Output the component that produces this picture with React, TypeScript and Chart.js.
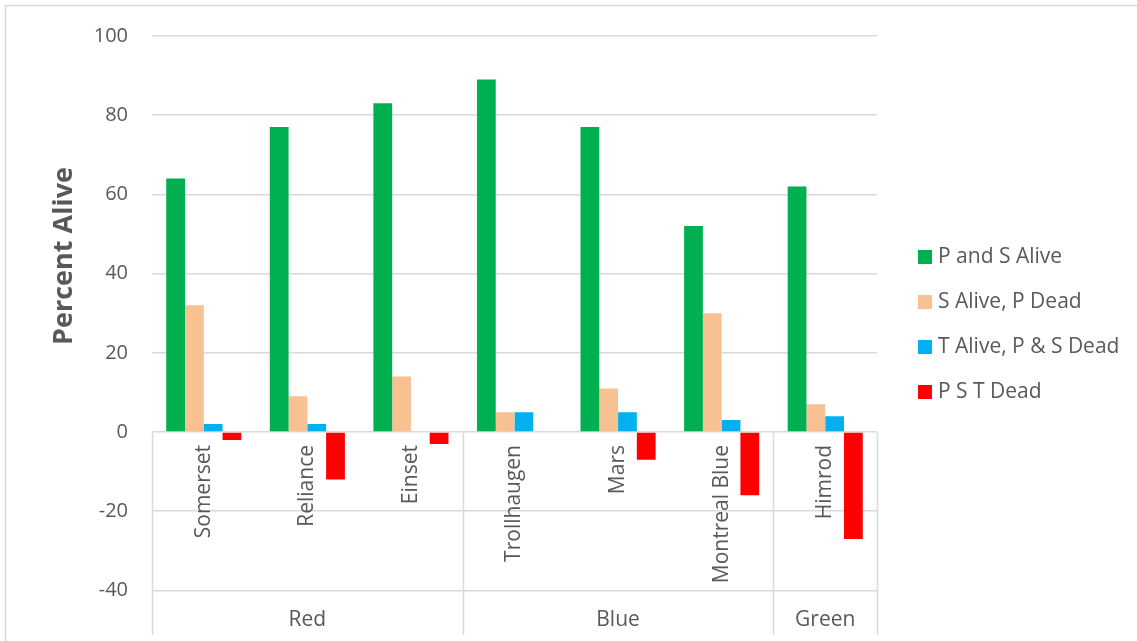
import React, { useEffect, useRef } from "react";
import { Chart, registerables } from "chart.js";

Chart.register(...registerables);

const categories = ["Somerset", "Reliance", "Einset", "Trollhaugen", "Mars", "Montreal Blue", "Himrod"];
const groupNames = ["Red", "Blue", "Green"];
const groupSizes = [3, 3, 1];

const seriesNames = ["P and S Alive", "S Alive, P Dead", "T Alive, P & S Dead", "P S T Dead"];
const pAndSAlive = [64, 77, 83, 89, 77, 52, 62];
const sAlivePDead = [32, 9, 14, 5, 11, 30, 7];
const tAlivePSDead = [2, 2, 0, 5, 5, 3, 4];
const pstDead = [-2, -12, -3, 0, -7, -16, -27];
const seriesColors = ["#00B050", "#F8C192", "#00B0F0", "#FF0000"];

const yTicksMin = -40;
const yTicksMax = 100;
const yTickStep = 20;

const FONT = "'Open Sans', 'DejaVu Sans', sans-serif";
const TEXT = "#595959";
const GRID = "#d9d9d9";

const decorPlugin = {
  id: "decor",
  afterDraw(chart: any) {
    const ctx = chart.ctx;
    const xs = chart.scales.x;
    const ys = chart.scales.y;
    const { left, right } = chart.chartArea;
    const zeroY = Math.round(ys.getPixelForValue(0)) + 0.5;
    const bottom = 635;
    ctx.save();
    // frame
    ctx.strokeStyle = GRID;
    ctx.lineWidth = 1.5;
    ctx.beginPath();
    ctx.moveTo(5.5, 641);
    ctx.lineTo(5.5, 5.5);
    ctx.lineTo(1137, 5.5);
    ctx.stroke();

    // group separators
    ctx.lineWidth = 1.5;
    const bounds: number[] = [left];
    let idx = 0;
    groupSizes.forEach((n) => {
      idx += n;
      if (idx < categories.length) {
        bounds.push((xs.getPixelForValue(idx - 1) + xs.getPixelForValue(idx)) / 2);
      } else {
        bounds.push(right);
      }
    });
    ctx.beginPath();
    bounds.forEach((b) => {
      const bx = Math.round(b) + 0.5;
      ctx.moveTo(bx, zeroY);
      ctx.lineTo(bx, bottom);
    });
    ctx.stroke();

    // category labels
    ctx.fillStyle = TEXT;
    ctx.font = `21px ${FONT}`;
    categories.forEach((c, i) => {
      const cx = xs.getPixelForValue(i);
      ctx.save();
      ctx.translate(cx, 445);
      ctx.rotate(-Math.PI / 2);
      ctx.textAlign = "right";
      ctx.textBaseline = "middle";
      ctx.fillText(c, 0, 0);
      ctx.restore();
    });

    // group labels
    ctx.textAlign = "center";
    ctx.textBaseline = "middle";
    groupNames.forEach((g, i) => {
      ctx.fillText(g, (bounds[i] + bounds[i + 1]) / 2, 620);
    });

    // axis title
    ctx.save();
    ctx.font = `bold 27px ${FONT}`;
    ctx.translate(64, 256);
    ctx.rotate(-Math.PI / 2);
    ctx.textAlign = "center";
    ctx.textBaseline = "middle";
    ctx.fillText("Percent Alive", 0, 0);
    ctx.restore();

    // legend
    ctx.font = `21px ${FONT}`;
    ctx.textAlign = "left";
    ctx.textBaseline = "middle";
    chart.data.datasets.forEach((ds: any, i: number) => {
      const cy = 257 + i * 45;
      ctx.fillStyle = ds.backgroundColor;
      ctx.fillRect(918, cy - 7, 14, 14);
      ctx.fillStyle = TEXT;
      ctx.fillText(ds.label, 938, cy);
    });
    ctx.restore();
  },
};

export default function App() {
  const ref = useRef<HTMLCanvasElement | null>(null);
  useEffect(() => {
    if (!ref.current) return;
    const series = [pAndSAlive, sAlivePDead, tAlivePSDead, pstDead];
    const chart = new Chart(ref.current, {
      type: "bar",
      data: {
        labels: categories,
        datasets: series.map((d, i) => ({
          label: seriesNames[i],
          data: d,
          backgroundColor: seriesColors[i],
          borderWidth: 0,
          categoryPercentage: 0.725,
          barPercentage: 1,
        })),
      },
      options: {
        responsive: false,
        animation: false,
        layout: { padding: { left: 0, right: 260, top: 34.7, bottom: 50.6 } },
        plugins: { legend: { display: false }, tooltip: { enabled: false } },
        scales: {
          x: { display: false },
          y: {
            min: yTicksMin,
            max: yTicksMax,
            border: { display: false },
            grid: { color: GRID, lineWidth: 1.5, drawTicks: false },
            ticks: {
              stepSize: yTickStep,
              color: TEXT,
              font: { family: FONT, size: 20 },
              padding: 24,
            },
            afterFit: (s: any) => {
              s.width = 152;
            },
          },
        },
      },
      plugins: [decorPlugin],
    });
    return () => chart.destroy();
  }, []);
  return (
    <div style={{ position: "fixed", left: 0, top: 0, width: 1137, height: 641, background: "#fff" }}>
      <canvas ref={ref} width={1137} height={641} />
    </div>
  );
}
